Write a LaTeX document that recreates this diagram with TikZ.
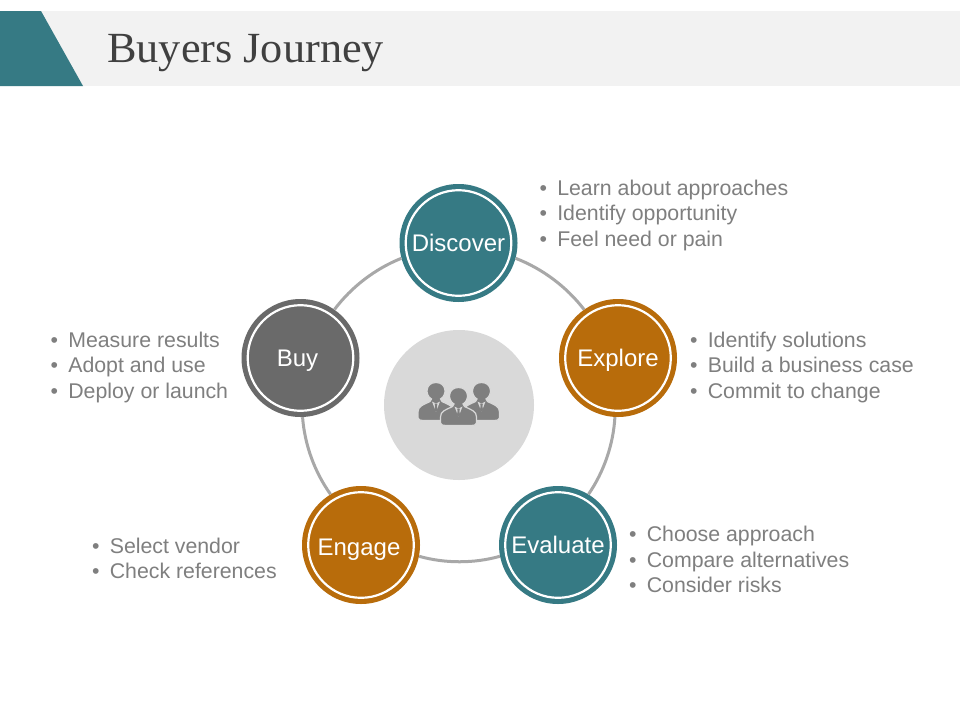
\documentclass[tikz,border=0pt]{standalone}
\usepackage{fontspec}
\setmainfont{Liberation Sans}
\newfontfamily\titlefont{Liberation Serif}
\definecolor{tealc}{HTML}{367A84}
\definecolor{orangec}{HTML}{B86C0B}
\definecolor{grayc}{HTML}{6A6A6A}
\definecolor{ringc}{HTML}{A8A8A8}
\definecolor{bandc}{HTML}{F2F2F2}
\definecolor{hubc}{HTML}{D9D9D9}
\definecolor{iconc}{HTML}{7F7F7F}
\definecolor{listc}{HTML}{7F7F7F}
\definecolor{titlec}{HTML}{404040}
\newcommand{\bul}{\makebox[17.6pt][l]{•}}
\tikzset{
  stage/.style={circle,fill=#1,minimum size=118pt,inner sep=0pt,text=white,
    font=\fontsize{24}{28}\selectfont,text height=17.4pt,text depth=0pt,
    path picture={\draw[white,line width=2.2pt] (path picture bounding box.center) circle (52.8pt);}},
  ringlink/.style={draw=ringc,line width=3pt,bend left=15.6,looseness=.86},
  bullets/.style={anchor=west,inner sep=0pt,align=left,text=listc,
    font=\fontsize{21.3}{25.5}\selectfont},
  pics/person/.style={code={
    \fill[iconc,draw=#1,line width=1.2pt] (-18,27) -- (-18,21) .. controls (-18,15) and (-13,14) .. (-6,10.5)
      -- (-4.5,8) .. controls (-11.5,4) and (-10.5,-8.5) .. (0,-8.5) .. controls (10.5,-8.5) and (11.5,4) .. (4.5,8)
      -- (6,10.5) .. controls (13,14) and (18,15) .. (18,21) -- (18,27)
      .. controls (18,29) and (15,29.5) .. (13,29.5) -- (-13,29.5) .. controls (-15,29.5) and (-18,29) .. (-18,27) -- cycle;
    \fill[hubc] (-4,10.5) -- (0,21) -- (4,10.5) -- (0,12.5) -- cycle;
    \fill[iconc] (-1.4,12.5) -- (1.4,12.5) -- (.9,15) -- (1.5,19) -- (0,21) -- (-1.5,19) -- (-.9,15) -- cycle;
  }}
}
\begin{document}
\begin{tikzpicture}[x=1pt,y=-1pt]
\useasboundingbox (0,0) rectangle (960,720);
\fill[white] (0,0) rectangle (960,720);
\fill[bandc] (0,11) rectangle (960,86);
\fill[tealc] (0,11) -- (41,11) -- (83,86) -- (0,86) -- cycle;
\node[anchor=west,inner sep=0pt,text=titlec,font=\titlefont\fontsize{43}{50}\selectfont] (title) at (107,53)
  {\scalebox{1.03}[1]{Buyers Journey}};

\node[circle,fill=hubc,minimum size=150pt,inner sep=0pt] (hub) at (459,405) {};
\pic at (436,391) {person=hubc};
\pic at (481.5,391) {person=hubc};
\pic at (458.5,396) {person=hubc};

\node[stage=tealc] (discover) at (458.5,243) {Discover};
\node[stage=orangec] (explore) at (618,358) {Explore};
\node[stage=tealc] (evaluate) at (558,545) {Evaluate};
\node[stage=orangec] (engage) at (361,545) {\hspace*{-4pt}\raisebox{-2pt}[0pt][0pt]{Engage}};
\node[stage=grayc] (buy) at (300.5,358) {\hspace*{-6pt}Buy};

\draw[ringlink] (discover.-15.3) to (explore.125.3);
\draw[ringlink] (explore.267.6) to (evaluate.59.3);
\draw[ringlink] (evaluate.191.2) to (engage.-11.4);
\draw[ringlink] (engage.121.6) to (buy.-88.5);
\draw[ringlink] (buy.55.4) to (discover.195.6);

\node[bullets] (discoverlist) at (539.5,215) {\bul Learn about approaches\\\bul Identify opportunity\\\bul Feel need or pain};
\node[bullets] (explorelist) at (690,367) {\bul Identify solutions\\\bul Build a business case\\\bul Commit to change};
\node[bullets] (evaluatelist) at (629,559.5) {\bul Choose approach\\\bul Compare alternatives\\\bul Consider risks};
\node[bullets] (engagelist) at (92,558.5) {\bul Select vendor\\\bul Check references};
\node[bullets] (buylist) at (50.5,367) {\bul Measure results\\\bul Adopt and use\\\bul Deploy or launch};
\end{tikzpicture}
\end{document}
